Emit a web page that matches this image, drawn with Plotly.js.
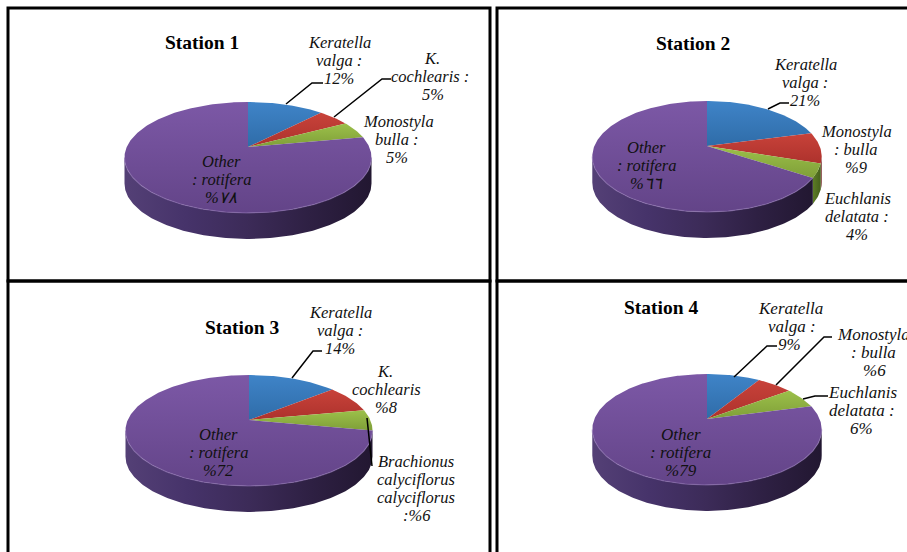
<!DOCTYPE html>
<html>
<head>
<meta charset="utf-8">
<script src="https://cdn.plot.ly/plotly-3.0.1.min.js"></script>
<style>html,body{margin:0;padding:0;background:#fff;overflow:hidden}</style>
</head>
<body>
<div id="chart" style="width:907px;height:552px"></div>
<script>
// Rotifer composition at four sampling stations (percent of individuals).
const stationNames = ['Station 1', 'Station 2', 'Station 3', 'Station 4'];

const station1Values = [12, 5, 5, 78];
const station2Values = [21, 9, 4, 66];
const station3Values = [14, 8, 6, 72];
const station4Values = [9, 6, 6, 79];

const station1Labels = [['Keratella', 'valga :', '12%'], ['K.', 'cochlearis :', '5%'], ['Monostyla', 'bulla :', '5%'], ['Other', ': rotifera', '%٧٨']];
const station2Labels = [['Keratella', 'valga :', '21%'], ['Monostyla', ': bulla', '%9'], ['Euchlanis', 'delatata :', '4%'], ['Other', ': rotifera', '%٦٦']];
const station3Labels = [['Keratella', 'valga :', '14%'], ['K.', 'cochlearis', '%8'], ['Brachionus', 'calyciflorus', 'calyciflorus', ':%6'], ['Other', ': rotifera', '%72']];
const station4Labels = [['Keratella', 'valga :', '9%'], ['Monostyla', ': bulla', '%6'], ['Euchlanis', 'delatata :', '6%'], ['Other', ': rotifera', '%79']];

// Layout of each panel, in page pixels.
const panels = [
  {box: [8, 490, 8, 281],  values: station1Values, labels: station1Labels, apex: [248, 147], rx: 123.5, titleAt: [202, 43], labelSize: 16.5,
   labelAt: [[[339, 43], [339, 61], [339, 79]], [[432, 59], [430, 77], [433, 95]], [[398, 122], [397, 140], [397, 158]], [[221, 162], [221, 180], [221, 198]]],
   leaders: [[[286, 104], [312, 83], [323, 83]], [[334, 117], [382, 79], [391, 79]]]},
  {box: [497, 907, 8, 281], values: station2Values, labels: station2Labels, apex: [707, 146], rx: 114.7, titleAt: [693, 44], labelSize: 16.5,
   labelAt: [[[805, 65], [805, 83], [805, 101]], [[856, 132], [856, 150], [856, 168]], [[857, 199], [857, 217], [857, 235]], [[646, 148], [646, 166], [646, 184]]],
   leaders: [[[768, 109], [780, 103], [789, 103]]]},
  {box: [8, 490, 281, 552], values: station3Values, labels: station3Labels, apex: [249, 420], rx: 123.5, titleAt: [242, 327], labelSize: 16.5,
   labelAt: [[[340, 312], [340, 330], [340, 348]], [[385, 371], [386, 389], [386, 407]], [[416, 461], [416, 479], [416, 497], [417, 515]], [[218, 434], [218, 452], [218, 470]]],
   leaders: [[[292, 378], [313, 351], [322, 351]], [[367, 418], [372, 466]]]},
  {box: [497, 907, 281, 552], values: station4Values, labels: station4Labels, apex: [707, 419], rx: 114.7, titleAt: [661, 307], labelSize: 17,
   labelAt: [[[790, 308], [792, 326], [789, 344]], [[873, 334], [873, 352], [874, 370]], [[862, 392], [862, 410], [861, 428]], [[681, 434], [680, 452], [681, 470]]],
   leaders: [[[734, 377], [767, 346], [777, 346]], [[776, 385], [824, 337], [832, 337]], [[803, 399], [815, 396], [828, 396]]]}
];

// Top face and side wall shading for the four slices.
const topShades = [['#3f84c8', '#2f6ca8'], ['#c8423a', '#ad322c'], ['#9cc04a', '#7f9f38'], ['#7c58a6', '#634488']];
const sideShades = [['#2c5a8c', '#1f4166'], ['#8f2a25', '#5f1b18'], ['#5d7c26', '#45601b'], ['#544076', '#46336a', '#3c2b58', '#2e2043', '#221731']];

const PAGE_W = 907, PAGE_H = 552;
const PERSPECTIVE = 0.189, TILT = 53.5, DEPTH = 26;

// Projects a bearing on the disc (degrees clockwise from the back) to page pixels.
function project(apex, rx, deg, drop) {
  const a = deg * Math.PI / 180;
  const w = 1 + PERSPECTIVE * Math.cos(a);
  const s = rx * Math.sqrt(1 - PERSPECTIVE * PERSPECTIVE);
  return [apex[0] + s * Math.sin(a) / w, apex[1] - TILT * Math.cos(a) / w + drop];
}

function arc(apex, rx, from, to, drop) {
  const pts = [];
  const n = Math.max(2, Math.ceil(Math.abs(to - from)));
  for (let i = 0; i <= n; i++) pts.push(project(apex, rx, from + (to - from) * i / n, drop));
  return pts;
}

function scale(colors) {
  return colors.map((c, i) => [i / (colors.length - 1), c]);
}

const traces = [];
const annotations = [];
const shapes = [];
const layout = {
  width: PAGE_W, height: PAGE_H, margin: {l: 0, r: 0, t: 0, b: 0},
  paper_bgcolor: '#fff', plot_bgcolor: 'rgba(0,0,0,0)', showlegend: false,
  hovermode: false, annotations, shapes
};

const SILHOUETTE = 90 + Math.asin(PERSPECTIVE) * 180 / Math.PI;

panels.forEach((p, idx) => {
  const suffix = idx === 0 ? '' : String(idx + 1);
  const xa = 'x' + suffix, ya = 'y' + suffix;
  const [x0, x1, y0, y1] = p.box;
  layout['xaxis' + suffix] = {domain: [x0 / PAGE_W, x1 / PAGE_W], range: [x0, x1], visible: false, fixedrange: true, anchor: ya};
  layout['yaxis' + suffix] = {domain: [1 - y1 / PAGE_H, 1 - y0 / PAGE_H], range: [y1, y0], visible: false, fixedrange: true, anchor: xa};

  const push = (pts, extra) => traces.push(Object.assign({
    type: 'scatter', xaxis: xa, yaxis: ya, hoverinfo: 'skip',
    x: pts.map(q => q[0]), y: pts.map(q => q[1])
  }, extra));

  const total = p.values.reduce((a, b) => a + b, 0);
  const edges = [0];
  p.values.forEach(v => edges.push(edges[edges.length - 1] + v / total * 360));

  // Side wall: only the part of the rim that faces the viewer.
  p.values.forEach((v, i) => {
    const from = Math.max(edges[i], SILHOUETTE), to = Math.min(edges[i + 1], 360 - SILHOUETTE);
    if (to <= from) return;
    const pts = arc(p.apex, p.rx, from, to, 0).concat(arc(p.apex, p.rx, to, from, DEPTH));
    pts.push(pts[0]);
    push(pts, {mode: 'lines', line: {width: 0}, fill: 'toself', fillcolor: sideShades[i][0],
      fillgradient: {type: 'horizontal', colorscale: scale(sideShades[i])}});
  });

  // Top face slices.
  p.values.forEach((v, i) => {
    const pts = [p.apex].concat(arc(p.apex, p.rx, edges[i], edges[i + 1], 0));
    pts.push(p.apex);
    push(pts, {mode: 'lines', line: {width: 0}, fill: 'toself', fillcolor: topShades[i][0],
      fillgradient: {type: 'vertical', colorscale: scale(topShades[i].slice().reverse())}});
  });

  // Soft highlight along the front edge of the disc.
  push(arc(p.apex, p.rx, Math.max(edges[3], SILHOUETTE), 360 - SILHOUETTE, 0),
    {mode: 'lines', line: {width: 1.2, color: 'rgba(140,112,175,0.6)'}});

  // Leader lines from slices to their labels.
  p.leaders.forEach(l => push(l, {mode: 'lines', line: {width: 1.5, color: '#000'}}));

  // Panel frame; panels at the page edge run off it on that side.
  shapes.push({type: 'rect', xref: 'paper', yref: 'paper', layer: 'above',
    x0: x0 / PAGE_W, x1: (x1 + (x1 === PAGE_W ? 6 : 0)) / PAGE_W,
    y0: 1 - (y1 + (y1 === PAGE_H ? 6 : 0)) / PAGE_H, y1: 1 - y0 / PAGE_H,
    line: {color: '#000', width: 3}, fillcolor: 'rgba(0,0,0,0)'});

  annotations.push({xref: xa, yref: ya, x: p.titleAt[0], y: p.titleAt[1], showarrow: false,
    text: '<b>' + stationNames[idx] + '</b>', font: {family: 'Liberation Serif', size: 19.5, color: '#000'},
    xanchor: 'center', yanchor: 'middle'});

  p.labels.forEach((lines, i) => lines.forEach((line, j) => {
    annotations.push({xref: xa, yref: ya, x: p.labelAt[i][j][0], y: p.labelAt[i][j][1], showarrow: false,
      text: '<i>' + line + '</i>', font: {family: 'Liberation Serif', size: p.labelSize, color: '#111'},
      xanchor: 'center', yanchor: 'middle'});
  }));
});

Plotly.newPlot('chart', traces, layout, {displayModeBar: false, staticPlot: true});
</script>
</body>
</html>
